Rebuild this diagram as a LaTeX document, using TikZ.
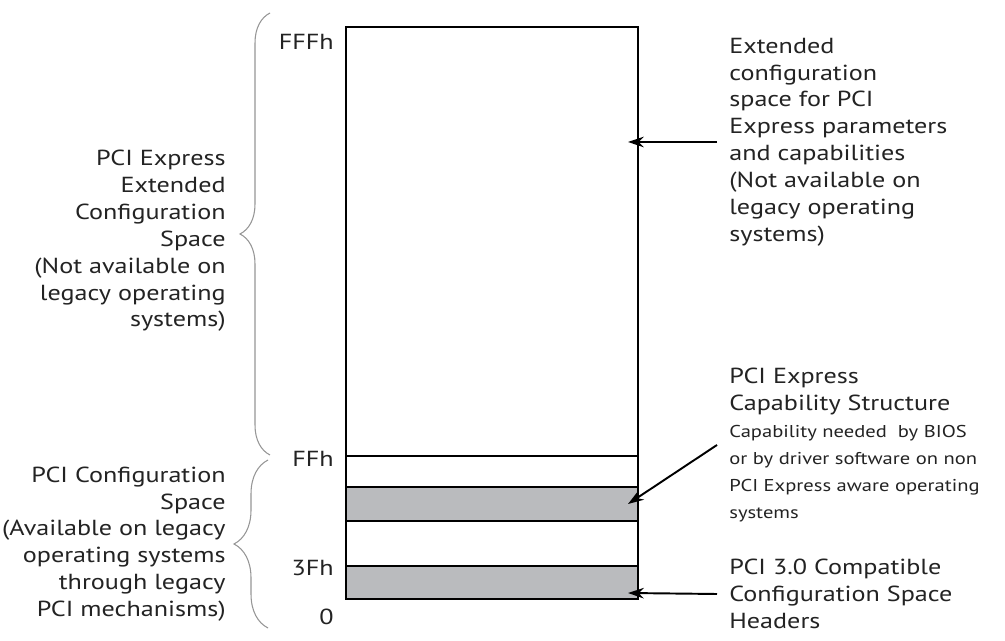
\documentclass[tikz,border=0pt]{standalone}
\usepackage{fontspec}
\setmainfont{PT Sans}[FakeStretch=1.2]
\usepackage{tikz}
\usetikzlibrary{positioning, arrows.meta, decorations.pathreplacing}
\usepackage{xcolor}
\definecolor{ink}{RGB}{35, 35, 35}
\definecolor{bandgray}{RGB}{186, 187, 190}
\definecolor{bracegray}{RGB}{150, 150, 150}
\newcommand{\notesmall}{\fontsize{9.75}{15.3}\selectfont}

\begin{document}
\begin{tikzpicture}[x=0.02cm, y=-0.02cm,
  every node/.style={text=ink, inner sep=0pt},
  region/.style={draw=black, line width=1.3pt, minimum width=5.84cm, outer sep=0pt},
  shaded/.style={region, fill=bandgray},
  sidenote/.style={align=right, anchor=east, font=\fontsize{12.4}{15.3}\selectfont},
  rightnote/.style={align=left, anchor=west, inner xsep=0.24cm, font=\fontsize{12.4}{15.3}\selectfont},
  addr/.style={anchor=east, font=\fontsize{12.4}{14}\selectfont},
  pointer/.style={line width=1.1pt, -{Stealth[length=9pt, width=6pt]}},
  span/.style={draw=bracegray, line width=0.6pt, decorate, decoration={brace, amplitude=#1}}]

\useasboundingbox[fill=white] (0,0) rectangle (1005,641);

% memory map, top (FFFh) to bottom (0)
\node[region, minimum height=8.58cm] (extreg) at (492,241.5) {};
\node[region, minimum height=0.62cm] (gapa) at (492,471.5) {};
\node[shaded, minimum height=0.68cm] (capreg) at (492,504) {};
\node[region, minimum height=0.90cm] (gapb) at (492,543.5) {};
\node[shaded, minimum height=0.66cm] (hdrreg) at (492,582.5) {};

% offsets
\node[addr] (lblfff) at (334,42) {FFFh};
\node[addr] (lblff) at (334,459) {FFh};
\node[addr] (lbl3f) at (334,568) {3Fh};
\node[addr] (lblzero) at (334,617) {0};

% braces and what they cover
\draw[span=0.6cm] (270,455) -- (270,13);
\draw[span=0.68cm] (268,628) -- (268,460);

\node[sidenote] (pcieside) at (226,241) {PCI Express\\Extended\\Configuration\\Space\\(Not available on\\legacy operating\\systems)};
\node[sidenote] (pciside) at (226,544) {PCI Configuration\\Space\\(Available on legacy\\operating systems\\through legacy\\PCI mechanisms)};

% notes on the right
\node[rightnote] (extnote) at (717,142) {Extended\\configuration\\space for PCI\\Express parameters\\and capabilities\\(Not available on\\legacy operating\\systems)};
\node[rightnote] (capnote) at (717,445) {PCI Express\\Capability Structure\\\notesmall Capability needed~ by BIOS\\\notesmall or by driver software on non\\\notesmall PCI Express aware operating\\\notesmall systems};
\node[rightnote] (hdrnote) at (717,594) {PCI 3.0 Compatible\\Configuration Space\\Headers};

\coordinate (exttip) at (628,142);
\coordinate (captip) at (628,504);
\coordinate (hdrtip) at (628,593);

\draw[pointer] (extnote.west) -- (exttip);
\draw[pointer] (capnote.west) -- (captip);
\draw[pointer] (hdrnote.west) -- (hdrtip);

\end{tikzpicture}
\end{document}
